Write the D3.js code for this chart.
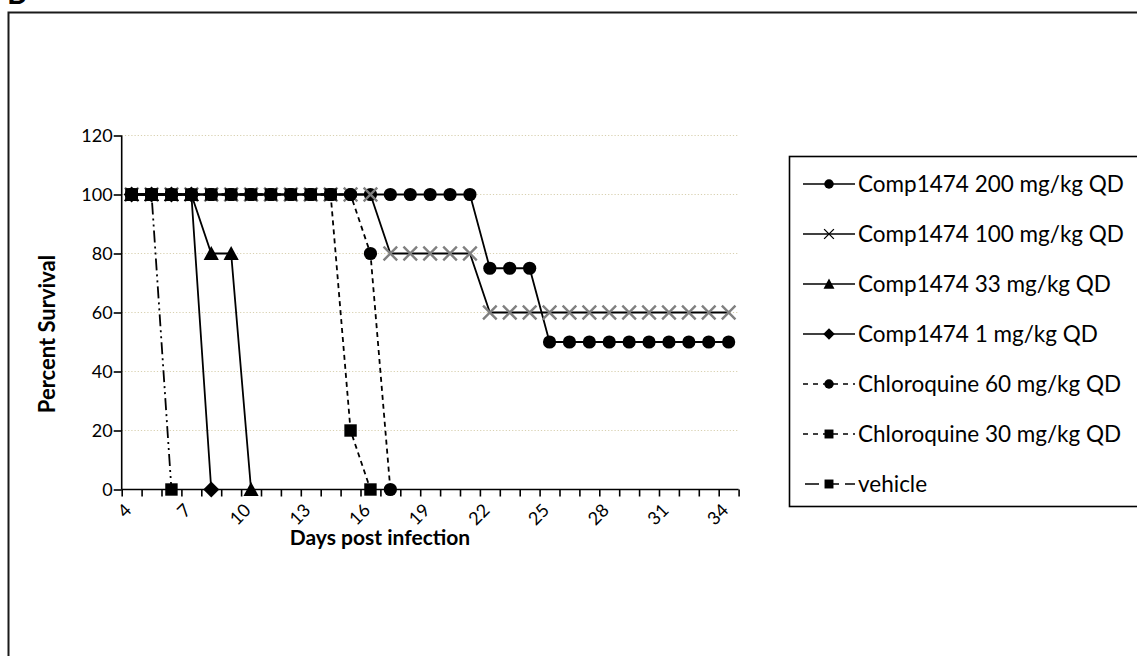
<!DOCTYPE html>
<html>
<head>
<meta charset="utf-8">
<script src="https://cdn.jsdelivr.net/npm/d3@7"></script>
<style>
  body { margin: 0; background: #fff; }
  svg { display: block; }
  text { font-family: Lato, "Open Sans", sans-serif; fill: #000; }
</style>
</head>
<body>
<svg id="chart" width="1137" height="656"></svg>
<script>
// Days on the category axis
const days = [4, 5, 6, 7, 8, 9, 10, 11, 12, 13, 14, 15, 16, 17, 18, 19, 20, 21, 22, 23, 24, 25, 26, 27, 28, 29, 30, 31, 32, 33, 34];
const xTickLabels = [4, 7, 10, 13, 16, 19, 22, 25, 28, 31, 34];
const yTicks = [0, 20, 40, 60, 80, 100, 120];

// Percent survival per group, starting at day 4
const comp200 = [100, 100, 100, 100, 100, 100, 100, 100, 100, 100, 100, 100, 100, 100, 100, 100, 100, 100, 75, 75, 75, 50, 50, 50, 50, 50, 50, 50, 50, 50, 50];
const comp100 = [100, 100, 100, 100, 100, 100, 100, 100, 100, 100, 100, 100, 100, 80, 80, 80, 80, 80, 60, 60, 60, 60, 60, 60, 60, 60, 60, 60, 60, 60, 60];
const comp33 = [100, 100, 100, 100, 80, 80, 0];
const comp1 = [100, 100, 100, 100, 0];
const chloro60 = [100, 100, 100, 100, 100, 100, 100, 100, 100, 100, 100, 100, 80, 0];
const chloro30 = [100, 100, 100, 100, 100, 100, 100, 100, 100, 100, 100, 20, 0];
const vehicle = [100, 100, 0];

const seriesNames = [
  "Comp1474 200 mg/kg QD",
  "Comp1474 100 mg/kg QD",
  "Comp1474 33 mg/kg QD",
  "Comp1474 1 mg/kg QD",
  "Chloroquine 60 mg/kg QD",
  "Chloroquine 30 mg/kg QD",
  "vehicle"
];
const seriesValues = [comp200, comp100, comp33, comp1, chloro60, chloro30, vehicle];
const seriesMarkers = ["circle", "cross", "triangle", "diamond", "circle", "square", "square"];
const seriesDash = [null, null, null, null, "5,4", "5,4", "12,4,2,4,2,4"];

const svg = d3.select("#chart");

// Outer frame of the figure panel, and the panel letter partly cut off above it
svg.append("text")
  .attr("x", 7).attr("y", 3.5)
  .style("font-size", "30px").style("font-weight", "bold")
  .text("B");
svg.append("rect")
  .attr("x", 8.5).attr("y", 12.5)
  .attr("width", 1140).attr("height", 660)
  .attr("fill", "none").attr("stroke", "#1a1a1a").attr("stroke-width", 2);

const plotLeft = 121.7, plotRight = 738.6;
const x = d3.scaleBand().domain(days).range([plotLeft, plotRight]).paddingInner(0).paddingOuter(0);
const xc = d => x(d) + x.bandwidth() / 2;
const y = d3.scaleLinear().domain([0, 120]).range([489.5, 135.5]);
const xEdges = d3.scaleLinear().domain([0, days.length]).range([plotLeft, plotRight]);

// Dotted horizontal gridlines
svg.append("g")
  .selectAll("line")
  .data(yTicks.filter(v => v > 0))
  .join("line")
  .attr("x1", plotLeft).attr("x2", plotRight)
  .attr("y1", d => y(d)).attr("y2", d => y(d))
  .attr("stroke", "#d8d0b0").attr("stroke-width", 1.2)
  .attr("stroke-dasharray", "1.2,2");

// Y axis
const yAxis = svg.append("g")
  .attr("transform", `translate(${plotLeft},0)`)
  .call(d3.axisLeft(y).tickValues(yTicks).tickSize(8).tickPadding(1).tickFormat(d3.format("d")));
yAxis.select(".domain").attr("stroke", "#000").attr("stroke-width", 1.6).attr("d", `M0,${y(120)}V${y(0)}`);
yAxis.selectAll(".tick line").attr("stroke", "#000").attr("stroke-width", 1.6);
yAxis.selectAll(".tick text").style("font-size", "18px").style("font-family", "Lato, sans-serif").attr("dy", "0.34em");

// X axis: tick marks between categories
const xAxis = svg.append("g")
  .attr("transform", `translate(0,${y(0)})`)
  .call(d3.axisBottom(xEdges).tickValues(d3.range(0, days.length + 1)).tickSize(7).tickFormat(""));
xAxis.select(".domain").attr("stroke", "#000").attr("stroke-width", 1.6).attr("d", `M${plotLeft},0H${plotRight}`);
xAxis.selectAll(".tick line").attr("stroke", "#000").attr("stroke-width", 1.6);

// Rotated category labels
svg.append("g")
  .selectAll("text")
  .data(xTickLabels)
  .join("text")
  .attr("transform", d => `translate(${xc(d) - 8},${y(0) + 13}) rotate(-45)`)
  .attr("text-anchor", "end")
  .attr("dy", "0.7em")
  .style("font-size", "18px")
  .text(d => d);

// Axis titles
svg.append("text")
  .attr("x", 380).attr("y", 545)
  .attr("text-anchor", "middle")
  .style("font-size", "21px").style("font-weight", "bold")
  .text("Days post infection");
svg.append("text")
  .attr("transform", `translate(55,334) rotate(-90)`)
  .attr("text-anchor", "middle")
  .style("font-size", "22px").style("font-weight", "bold")
  .text("Percent Survival");

// Marker shapes
function drawMarker(g, type, cx, cy, scale) {
  const s = scale || 1;
  if (type === "circle") {
    g.append("circle").attr("cx", cx).attr("cy", cy).attr("r", 6.6 * s).attr("fill", "#000");
  } else if (type === "square") {
    g.append("rect").attr("x", cx - 6.2 * s).attr("y", cy - 6.2 * s)
      .attr("width", 12.4 * s).attr("height", 12.4 * s).attr("fill", "#000");
  } else if (type === "triangle") {
    const h = 7.6 * s;
    g.append("path").attr("d", `M${cx},${cy - h}L${cx + h},${cy + h * 0.85}L${cx - h},${cy + h * 0.85}Z`).attr("fill", "#000");
  } else if (type === "diamond") {
    const h = 8 * s;
    g.append("path").attr("d", `M${cx},${cy - h}L${cx + h},${cy}L${cx},${cy + h}L${cx - h},${cy}Z`).attr("fill", "#000");
  } else if (type === "cross") {
    const h = 6.8 * s;
    g.append("path").attr("d", `M${cx - h},${cy - h}L${cx + h},${cy + h}M${cx - h},${cy + h}L${cx + h},${cy - h}`)
      .attr("stroke", s < 1 ? "#000" : "#808080").attr("stroke-width", s < 1 ? 1.3 : 2.4).attr("fill", "none");
  }
}

// Survival curves
const line = d3.line().x((d, i) => xc(days[i])).y(d => y(d));
const plot = svg.append("g");
seriesValues.forEach((vals, k) => {
  const g = plot.append("g");
  g.append("path")
    .attr("d", line(vals))
    .attr("fill", "none")
    .attr("stroke", "#000")
    .attr("stroke-width", 1.8)
    .attr("stroke-dasharray", seriesDash[k]);
  vals.forEach((v, i) => drawMarker(g, seriesMarkers[k], xc(days[i]), y(v), 1));
});

// Legend
const legend = svg.append("g");
legend.append("rect")
  .attr("x", 789.5).attr("y", 156.5).attr("width", 360).attr("height", 350)
  .attr("fill", "#fff").attr("stroke", "#000").attr("stroke-width", 1.6);
seriesNames.forEach((name, k) => {
  const ly = 184 + k * 50;
  legend.append("line")
    .attr("x1", 803).attr("x2", 855).attr("y1", ly).attr("y2", ly)
    .attr("stroke", "#000").attr("stroke-width", 1.7)
    .attr("stroke-dasharray", seriesDash[k] ? (k === 6 ? "14,6" : "5,5") : null)
    .attr("stroke-dashoffset", k === 6 ? -2 : 0);
  drawMarker(legend, seriesMarkers[k], 829, ly, 0.72);
  legend.append("text")
    .attr("x", 858).attr("y", ly).attr("dy", "0.36em")
    .style("font-size", "22.5px")
    .text(name);
});
</script>
</body>
</html>
